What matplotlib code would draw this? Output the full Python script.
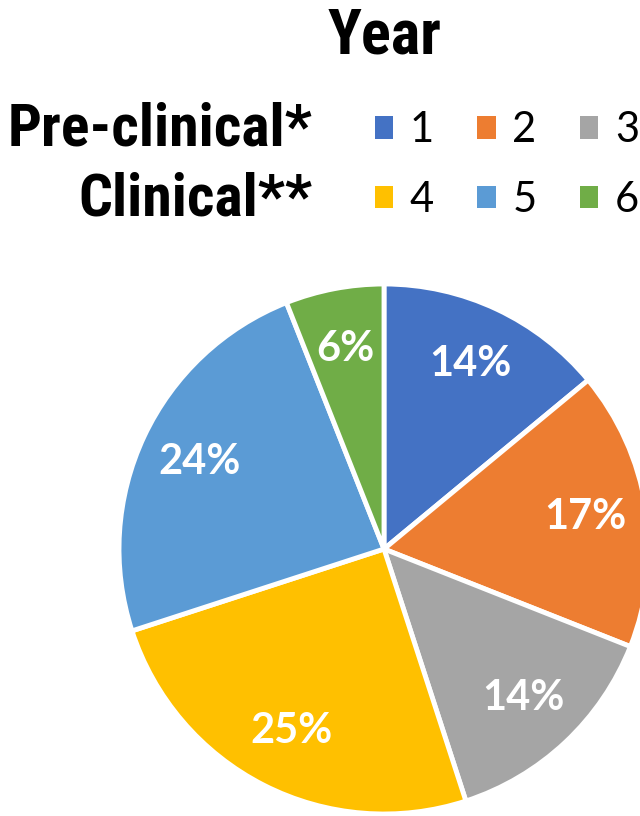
import matplotlib
matplotlib.use('Agg')
import matplotlib.pyplot as plt
from matplotlib import font_manager

# data
years = ['1', '2', '3', '4', '5', '6']
shares = [14, 17, 14, 25, 24, 6]
colors = ['#4472C4', '#ED7D31', '#A5A5A5', '#FFC000', '#5B9BD5', '#70AD47']
row_labels = ['Pre-clinical*', 'Clinical**']

# pick a narrow bold face if there is one
names = set(f.name for f in font_manager.fontManager.ttflist)
bold_font = [n for n in ['Liberation Sans Narrow', 'DejaVu Sans Condensed', 'Roboto Condensed']
             if n in names] + ['Liberation Sans', 'DejaVu Sans']
narrow = bold_font[0] not in ('Liberation Sans', 'DejaVu Sans')
big = 43 if narrow else 32

W, H = 640, 816
fig = plt.figure(figsize=(W/100, H/100), dpi=100)

# pie axes, centre and radius in pixels
cx, cy, r = 384, 549, 265
ax = fig.add_axes([(cx-r)/W, (H-cy-r)/H, 2*r/W, 2*r/H])
wedges, texts, autotexts = ax.pie(shares, colors=colors, startangle=90, counterclock=False,
                                  autopct='%d%%', pctdistance=0.77,
                                  wedgeprops=dict(edgecolor='white', linewidth=3.5),
                                  textprops=dict(color='white', fontsize=30, fontweight='bold',
                                                 family=['Lato', 'DejaVu Sans']))
ax.set_xlim(-1, 1)
ax.set_ylim(-1, 1)
ax.set_aspect('equal')

# legend, row-wise order
order = [0, 3, 1, 4, 2, 5]
leg = fig.legend([wedges[i] for i in order], [years[i] for i in order], ncol=3,
                 loc='center left', bbox_to_anchor=(337/W, 1-165/H), frameon=False,
                 prop=dict(family=['Lato', 'DejaVu Sans'], size=30),
                 handlelength=0.45, handleheight=0.45, handletextpad=0.4,
                 columnspacing=1.03, labelspacing=0.75)
for h in leg.legend_handles:
    h.set_edgecolor('none')

fig.text(385/W, 1-37/H, 'Year', ha='center', va='center', fontsize=big + 2,
         fontweight='bold', family=bold_font)
fig.text(312/W, 1-130/H, row_labels[0], ha='right', va='center', fontsize=big,
         fontweight='bold', family=bold_font)
fig.text(312/W, 1-200/H, row_labels[1], ha='right', va='center', fontsize=big,
         fontweight='bold', family=bold_font)

fig.savefig('out.png', dpi=100)
